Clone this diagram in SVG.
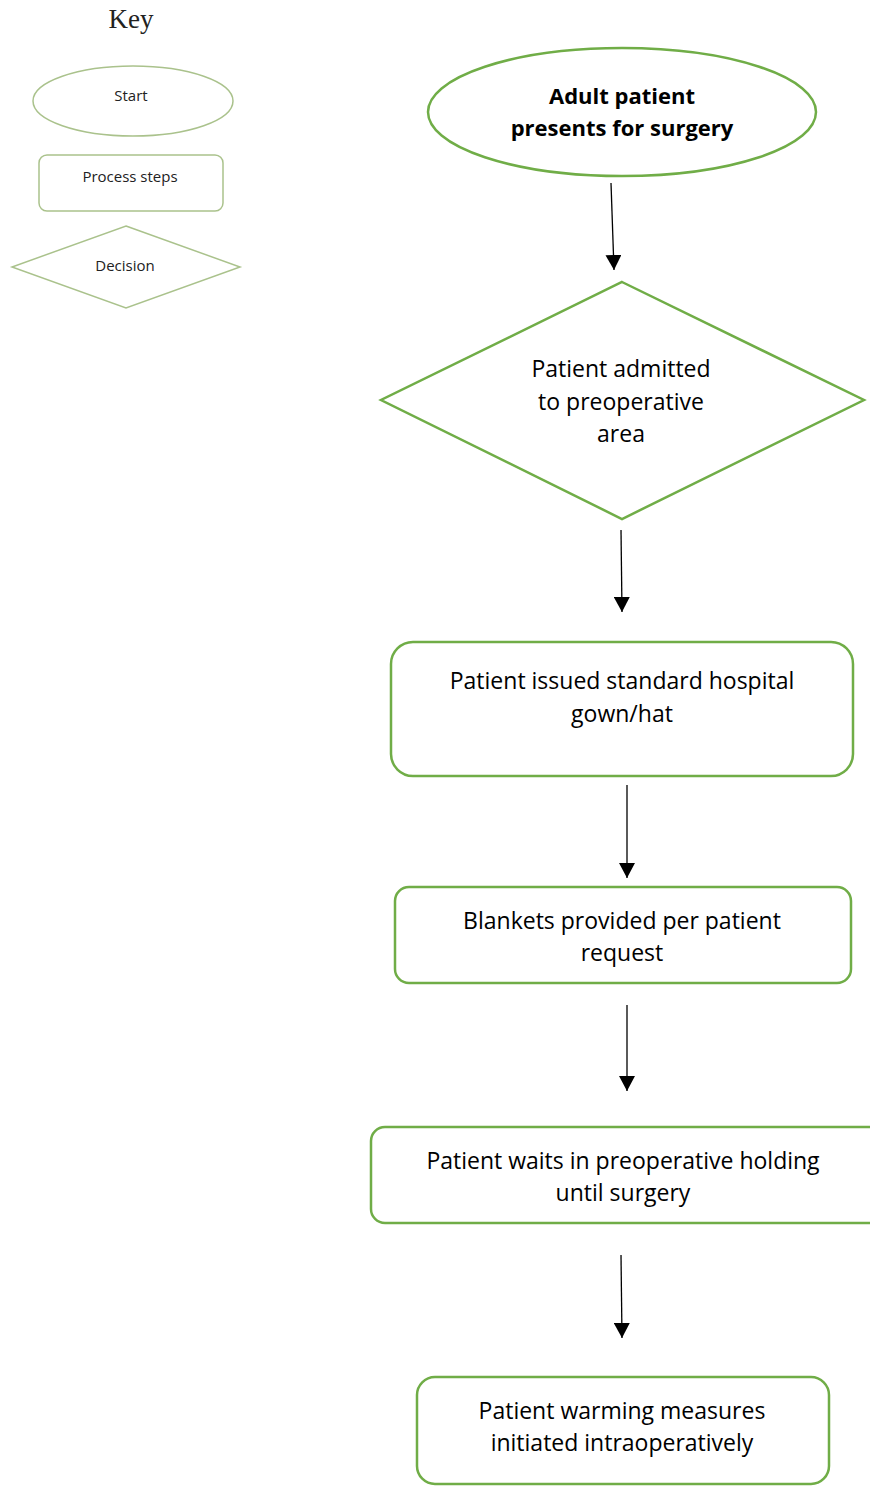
<svg xmlns="http://www.w3.org/2000/svg" width="870" height="1486" viewBox="0 0 870 1486">
<style>
.key{fill:#fff;stroke:#aac28c;stroke-width:1.5}
.node{fill:#fff;stroke:#70ad47;stroke-width:2.5}
.kt{font-family:"Open Sans","Noto Sans",sans-serif;font-size:15px;fill:#222;text-anchor:middle;dominant-baseline:central}
.t{font-family:"Open Sans","Noto Sans",sans-serif;font-size:23px;fill:#000;text-anchor:middle;dominant-baseline:central}
.b{font-weight:bold;font-size:22px}
.conn line{stroke:#000;stroke-width:1.3}
</style>
<defs>
<marker id="ah" markerWidth="16" markerHeight="16" viewBox="0 0 16 16" refX="15" refY="8" orient="auto" markerUnits="userSpaceOnUse">
<path d="M0,0 L15,8 L0,16 Z" fill="#000"/>
</marker>
</defs>
<rect width="870" height="1486" fill="#fff"/>
<g id="key">
<text x="131" y="19" style="font-family:'Liberation Serif','Times New Roman',serif;font-size:27px;fill:#222;text-anchor:middle;dominant-baseline:central">Key</text>
<g id="key-start"><ellipse class="key" cx="133" cy="101" rx="100" ry="35"/><text class="kt" x="131" y="95">Start</text></g>
<g id="key-process"><rect class="key" x="39" y="155" width="184" height="56" rx="8"/><text class="kt" x="130" y="176">Process steps</text></g>
<g id="key-decision"><polygon class="key" points="126,226 240,267 126,308 12,267"/><text class="kt" x="125" y="265">Decision</text></g>
</g>
<g id="n1"><ellipse class="node" cx="622" cy="112" rx="194" ry="64"/><text class="t b" x="622" y="95">Adult patient</text><text class="t b" x="622" y="127">presents for surgery</text></g>
<g id="n2"><polygon class="node" points="622,282 864,400 622,519 381,400"/><text class="t" x="621" y="368">Patient admitted</text><text class="t" x="621" y="401">to preoperative</text><text class="t" x="621" y="433">area</text></g>
<g id="n3"><rect class="node" x="391" y="642" width="462" height="134" rx="22"/><text class="t" x="622" y="680">Patient issued standard hospital</text><text class="t" x="622" y="713">gown/hat</text></g>
<g id="n4"><rect class="node" x="395" y="887" width="456" height="96" rx="14"/><text class="t" x="622" y="920">Blankets provided per patient</text><text class="t" x="622" y="952">request</text></g>
<g id="n5"><rect class="node" x="371" y="1127" width="520" height="96" rx="14"/><text class="t" x="623" y="1160">Patient waits in preoperative holding</text><text class="t" x="623" y="1192">until surgery</text></g>
<g id="n6"><rect class="node" x="417" y="1377" width="412" height="107" rx="18"/><text class="t" x="622" y="1410">Patient warming measures</text><text class="t" x="622" y="1442">initiated intraoperatively</text></g>
<g id="connectors" class="conn">
<line x1="611" y1="183" x2="614" y2="270" marker-end="url(#ah)"/>
<line x1="621" y1="530" x2="622" y2="612" marker-end="url(#ah)"/>
<line x1="627" y1="785" x2="627" y2="878" marker-end="url(#ah)"/>
<line x1="627" y1="1005" x2="627" y2="1091" marker-end="url(#ah)"/>
<line x1="621" y1="1255" x2="622" y2="1338" marker-end="url(#ah)"/>
</g>
</svg>
